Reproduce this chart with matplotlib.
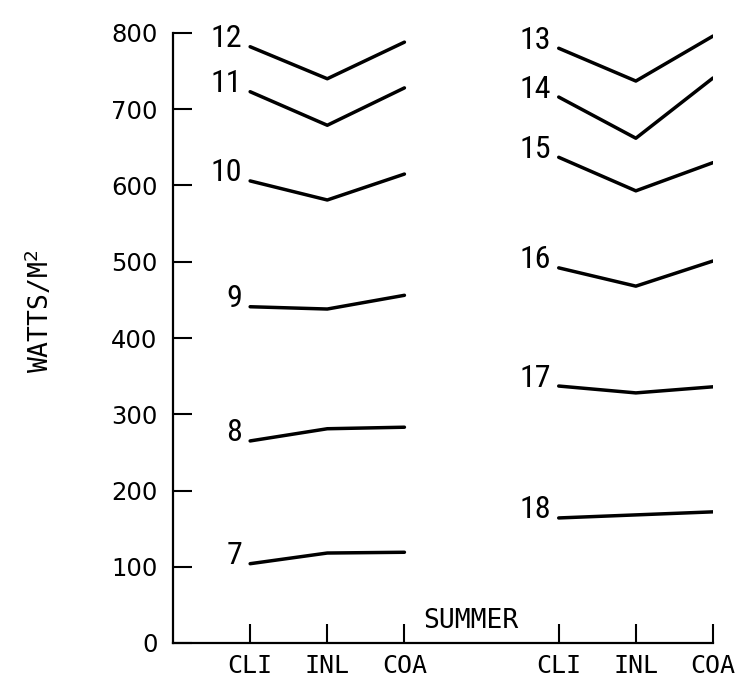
import numpy as np
import matplotlib
matplotlib.use("Agg")
import matplotlib.pyplot as plt
from matplotlib import font_manager

# site types along the x axis (repeated for the two groups)
sites = ["CLI", "INL", "COA"]

# hour labels and irradiance values (W/m^2) for CLI, INL, COA
morning_hours = [7, 8, 9, 10, 11, 12]
morning_vals = [
    [104, 118, 119],
    [265, 281, 283],
    [441, 438, 456],
    [606, 581, 615],
    [723, 679, 728],
    [782, 740, 788],
]

afternoon_hours = [13, 14, 15, 16, 17, 18]
afternoon_vals = [
    [780, 737, 796],
    [716, 662, 741],
    [637, 593, 630],
    [492, 468, 501],
    [337, 328, 336],
    [164, 168, 172],
]

yticks = [0, 100, 200, 300, 400, 500, 600, 700, 800]

fig = plt.figure(figsize=(7.45, 6.85), dpi=100)
ax = fig.add_axes([173 / 745, 42 / 685, 540 / 745, 610 / 685])

mono = "DejaVu Sans Mono"

# a narrow face for the hour numbers, if one is around
names = {f.name for f in font_manager.fontManager.ttflist}
narrow = None
for cand in ["Liberation Sans Narrow", "Roboto Condensed", "Open Sans Condensed",
             "DejaVu Sans Condensed"]:
    if cand in names:
        narrow = cand
        break
num_font = dict(family=[narrow, "DejaVu Sans"] if narrow else "DejaVu Sans",
                fontsize=23 if narrow else 19)

x_left = np.arange(3)
x_right = np.arange(3) + 4

for xs, hours, vals in [(x_left, morning_hours, morning_vals),
                        (x_right, afternoon_hours, afternoon_vals)]:
    for h, v in zip(hours, vals):
        ax.plot(xs, v, color="black", lw=2.5, solid_capstyle="round")
        ax.annotate(str(h), (xs[0], v[0]), xytext=(-8, 8),
                    textcoords="offset pixels", ha="right", va="center",
                    **num_font)

ax.set_xlim(-1, 6)
ax.set_ylim(0, 800)

ax.set_xticks(np.concatenate([x_left, x_right]))
ax.set_xticklabels(sites + sites, family=mono, fontsize=18)
ax.set_yticks(yticks)
ax.set_yticklabels([str(t) for t in yticks], fontsize=17.5)

ax.tick_params(axis="both", direction="in", length=14, width=1.5)
ax.tick_params(axis="y", pad=11)
ax.tick_params(axis="x", pad=8)

for s in ["top", "right"]:
    ax.spines[s].set_visible(False)
for s in ["left", "bottom"]:
    ax.spines[s].set_linewidth(1.6)

ax.text(2.24, 20, "SUMMER", family=mono, fontsize=19, ha="left", va="baseline")

ax.set_ylabel(r"WATTS/M$^2$", family=mono, fontsize=19)
ax.yaxis.set_label_coords(-0.218, 0.543)

fig.savefig("out.png", dpi=100, facecolor="white")
